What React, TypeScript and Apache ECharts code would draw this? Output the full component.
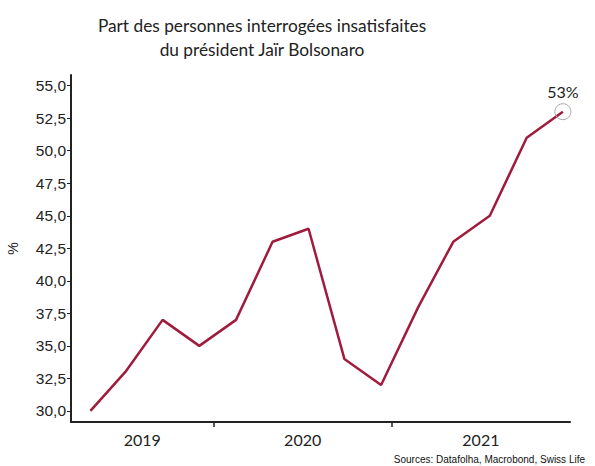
import React, { useEffect, useRef } from "react";
import * as echarts from "echarts";

// Survey dates as decimal years
const surveyDates = [
  2019.309, 2019.505, 2019.714, 2019.92, 2020.126, 2020.331, 2020.533,
  2020.734, 2020.94, 2021.149, 2021.345, 2021.55, 2021.757, 2021.96,
];
// Share of dissatisfied respondents, %
const dissatisfied = [30, 33, 37, 35, 37, 43, 44, 34, 32, 38, 43, 45, 51, 53];
const yTicks = [30, 32.5, 35, 37.5, 40, 42.5, 45, 47.5, 50, 52.5, 55];
const yearTicks = [2020, 2021];
const yearLabelPositions = [2019.6, 2020.5, 2021.5];
const titleLines = [
  "Part des personnes interrogées insatisfaites",
  "du président Jaïr Bolsonaro",
];
const sourceText = "Sources: Datafolha, Macrobond, Swiss Life";

export default function App() {
  const ref = useRef<HTMLDivElement>(null);
  useEffect(() => {
    document.body.style.margin = "0";
    if (!ref.current) return;
    const chart = echarts.init(ref.current, undefined, { renderer: "svg" });
    const data = surveyDates.map((d, i) => [d, dissatisfied[i]]);
    const last = data[data.length - 1];
    chart.setOption({
      animation: false,
      backgroundColor: "#fff",
      graphic: [
        {
          type: "text",
          x: 262,
          y: 13,
          style: {
            text: titleLines.join("\n"),
            font: '17.3px Lato',
            fill: "#222",
            align: "center",
            lineHeight: 24,
          },
        },
        {
          type: "text",
          right: 10,
          top: 454,
          style: {
            text: sourceText,
            font: '10px "Liberation Sans"',
            fill: "#111",
          },
        },
      ],
      grid: {
        left: 71,
        right: 25,
        top: 75,
        bottom: 44,
        containLabel: false,
        outerBoundsMode: "none",
      },
      xAxis: {
        type: "value",
        min: 2019.2,
        max: 2022.0,
        axisLine: { show: true, lineStyle: { color: "#222", width: 2 } },
        axisTick: {
          show: true,
          customValues: yearTicks,
          length: 5,
          lineStyle: { color: "#222", width: 1.5 },
        },
        axisLabel: {
          customValues: yearLabelPositions,
          formatter: (v: number) => String(Math.floor(v)),
          fontFamily: "Lato",
          fontSize: 16,
          color: "#222",
          margin: 9,
        },
        splitLine: { show: false },
      },
      yAxis: {
        type: "value",
        min: 29.15,
        max: 55.82,
        name: "%",
        nameLocation: "middle",
        nameGap: 51,
        nameRotate: 90,
        nameTextStyle: { fontFamily: "Liberation Sans", fontSize: 14, color: "#222" },
        axisLine: { show: true, lineStyle: { color: "#222", width: 2 } },
        axisTick: {
          show: true,
          customValues: yTicks,
          length: 4,
          lineStyle: { color: "#222", width: 1 },
        },
        axisLabel: {
          customValues: yTicks,
          formatter: (v: number) => v.toFixed(1).replace(".", ","),
          fontFamily: "Liberation Sans",
          fontSize: 15.5,
          color: "#222",
          margin: 5,
        },
        splitLine: { show: false },
      },
      series: [
        {
          type: "line",
          data,
          showSymbol: false,
          symbol: "none",
          lineStyle: { color: "#A01C3C", width: 2.5 },
          markPoint: {
            symbol: "circle",
            symbolSize: 16,
            itemStyle: {
              color: "rgba(0,0,0,0)",
              borderColor: "#aaa",
              borderWidth: 1,
            },
            label: {
              show: true,
              position: "top",
              distance: 4,
              formatter: `${last[1]}%`,
              fontFamily: "Lato",
              fontSize: 16,
              color: "#222",
            },
            data: [{ coord: last }],
          },
        },
      ],
    });
    return () => chart.dispose();
  }, []);
  return <div ref={ref} style={{ width: 595, height: 466 }} />;
}
